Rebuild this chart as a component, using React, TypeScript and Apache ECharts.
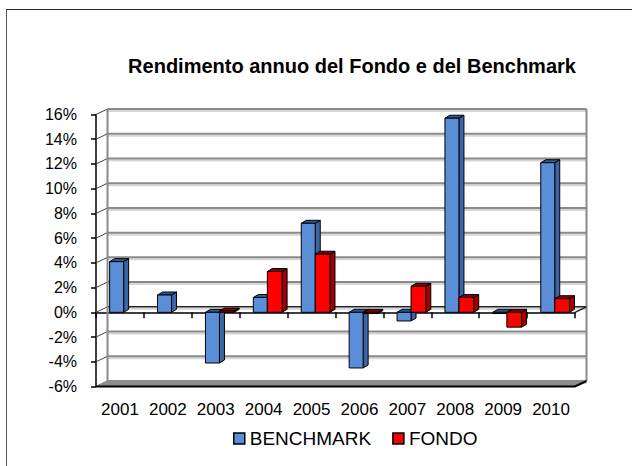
import React, { useEffect, useRef } from "react";
import * as echarts from "echarts";

const years = ["2001", "2002", "2003", "2004", "2005", "2006", "2007", "2008", "2009", "2010"];
const benchmark = [4.1, 1.4, -4.1, 1.2, 7.2, -4.5, -0.7, 15.7, -0.1, 12.1];
const fondo: (number | null)[] = [null, null, 0.1, 3.3, 4.7, -0.1, 2.1, 1.2, -1.2, 1.1];
const yTicks = [-6, -4, -2, 0, 2, 4, 6, 8, 10, 12, 14, 16];

const FONT = "Liberation Sans, Arial, sans-serif";
// wall depth offset and bar depth offset
const WX = 11.5;
const WY = 5.5;
const BX = 5;
const BY = 3;

function barRenderer(off0: number, off1: number, front: string, side: string, top: string) {
  return (params: any, api: any) => {
    const idx = api.value(0);
    const v = api.value(1);
    if (v == null || isNaN(v)) return null;
    const base = api.coord([idx, 0]);
    const end = api.coord([idx, v]);
    const w = api.size([1, 0])[0];
    const x0 = base[0] + off0 * w;
    const x1 = base[0] + off1 * w;
    const yt = Math.min(base[1], end[1]);
    const yb = Math.max(base[1], end[1]);
    const st = { stroke: "#000", lineWidth: 1 };
    return {
      type: "group",
      children: [
        {
          type: "polygon",
          shape: { points: [[x1, yt], [x1 + BX, yt - BY], [x1 + BX, yb - BY], [x1, yb]] },
          style: { fill: side, ...st },
        },
        {
          type: "polygon",
          shape: { points: [[x0, yt], [x1, yt], [x1 + BX, yt - BY], [x0 + BX, yt - BY]] },
          style: { fill: top, ...st },
        },
        {
          type: "rect",
          shape: { x: x0, y: yt, width: x1 - x0, height: yb - yt },
          style: { fill: front, ...st },
        },
      ],
    };
  };
}

export default function App() {
  const ref = useRef<HTMLDivElement>(null);
  useEffect(() => {
    if (!ref.current) return;
    const chart = echarts.init(ref.current, null, { renderer: "svg" });
    const option: any = {
      animation: false,
      backgroundColor: "#ffffff",
      textStyle: { fontFamily: FONT },
      graphic: [
        { type: "line", shape: { x1: 6, y1: 9.5, x2: 632, y2: 9.5 }, style: { stroke: "#222", lineWidth: 1 } },
        { type: "line", shape: { x1: 6.5, y1: 9, x2: 6.5, y2: 466 }, style: { stroke: "#555", lineWidth: 1 } },
        {
          type: "text",
          x: 352,
          y: 66,
          style: {
            text: "Rendimento annuo del Fondo e del Benchmark",
            font: `bold 20px ${FONT}`,
            fill: "#000",
            textAlign: "center",
            textVerticalAlign: "middle",
          },
        },
      ],
      legend: {
        data: [
          { name: "BENCHMARK", itemStyle: { color: "#5A8FD8", borderColor: "#000", borderWidth: 1.5 } },
          { name: "FONDO", itemStyle: { color: "#FF0000", borderColor: "#000", borderWidth: 1.5 } },
        ],
        left: 233,
        top: 429,
        padding: 0,
        icon: "rect",
        itemWidth: 11,
        itemHeight: 11,
        itemGap: 21,
        textStyle: { fontSize: 19, color: "#000", fontFamily: FONT },
      },
      grid: { left: 96, top: 114.5, width: 479, height: 272 },
      xAxis: [
        {
          type: "category",
          data: years,
          position: "bottom",
          axisLine: { show: false, onZero: false },
          axisTick: { show: false },
          axisLabel: { color: "#000", fontSize: 17, margin: 14, fontFamily: FONT, interval: 0 },
        },
        {
          type: "category",
          data: years,
          position: "top",
          axisLine: { show: true, onZero: true, lineStyle: { color: "#000", width: 1.5 } },
          axisTick: { show: true, inside: true, length: 6, interval: 0, lineStyle: { color: "#000", width: 1.5 } },
          axisLabel: { show: false },
        },
      ],
      yAxis: {
        type: "value",
        min: -6,
        max: 16,
        interval: 2,
        axisLine: { show: true, lineStyle: { color: "#000", width: 1.5 } },
        axisTick: { show: true, length: 5, lineStyle: { color: "#000", width: 1.5 } },
        splitLine: { show: false },
        axisLabel: { color: "#000", fontSize: 16, margin: 19, formatter: "{value}%", fontFamily: FONT },
      },
      series: [
        {
          name: "wall",
          type: "custom",
          silent: true,
          data: yTicks.map((v) => [0, v]),
          renderItem: (params: any, api: any) => {
            const cs = params.coordSys;
            const v = api.value(1);
            const y = api.coord([0, v])[1];
            const xl = cs.x;
            const xr = cs.x + cs.width;
            return {
              type: "group",
              children: [
                {
                  type: "line",
                  shape: { x1: xl + WX, y1: y - WY + 2, x2: xr + WX, y2: y - WY + 2 },
                  style: { stroke: "#d6d6d6", lineWidth: 2 },
                },
                {
                  type: "line",
                  shape: { x1: xl + WX, y1: y - WY, x2: xr + WX, y2: y - WY },
                  style: { stroke: v === 0 ? "#222" : "#8a8a8a", lineWidth: v === 0 ? 1.5 : 2 },
                },
                {
                  type: "line",
                  shape: { x1: xl, y1: y, x2: xl + WX, y2: y - WY },
                  style: { stroke: "#444", lineWidth: 1 },
                },
              ],
            };
          },
        },
        {
          name: "floor",
          type: "custom",
          silent: true,
          data: [[0, -6]],
          renderItem: (params: any, api: any) => {
            const cs = params.coordSys;
            const yb = api.coord([0, -6])[1];
            const y0 = api.coord([0, 0])[1];
            const yTop = api.coord([0, 16])[1];
            const xl = cs.x;
            const xr = cs.x + cs.width;
            return {
              type: "group",
              children: [
                {
                  type: "line",
                  shape: { x1: xl + WX, y1: yTop - WY, x2: xl + WX, y2: yb - WY },
                  style: { stroke: "#8a8a8a", lineWidth: 2 },
                },
                {
                  type: "line",
                  shape: { x1: xr + WX, y1: yTop - WY, x2: xr + WX, y2: yb - WY },
                  style: { stroke: "#8a8a8a", lineWidth: 2 },
                },
                {
                  type: "polygon",
                  shape: { points: [[xl, yb], [xr, yb], [xr + WX, yb - WY], [xl + WX, yb - WY]] },
                  style: { fill: "#8c8c8c", stroke: "#8c8c8c", lineWidth: 1 },
                },
                {
                  type: "polyline",
                  shape: { points: [[xl, yb], [xr, yb], [xr + WX, yb - WY]] },
                  style: { stroke: "#000", lineWidth: 2, fill: "none" },
                },
                {
                  type: "line",
                  shape: { x1: xr, y1: y0, x2: xr + WX, y2: y0 - WY },
                  style: { stroke: "#222", lineWidth: 1.5 },
                },
              ],
            };
          },
        },
        {
          name: "BENCHMARK",
          type: "custom",
          itemStyle: { color: "#5A8FD8" },
          data: benchmark.map((v, i) => [i, v]),
          renderItem: barRenderer(-0.215, 0.077, "#5A8FD8", "#3B66A6", "#2F5A96"),
        },
        {
          name: "FONDO",
          type: "custom",
          itemStyle: { color: "#FF0000" },
          data: fondo.map((v, i) => [i, v]),
          renderItem: barRenderer(0.077, 0.385, "#FF0000", "#A00000", "#8A0000"),
        },
      ],
    };
    chart.setOption(option);
    return () => chart.dispose();
  }, []);
  return (
    <div
      ref={ref}
      style={{ position: "fixed", left: 0, top: 0, width: 632, height: 466, background: "#fff" }}
    />
  );
}
